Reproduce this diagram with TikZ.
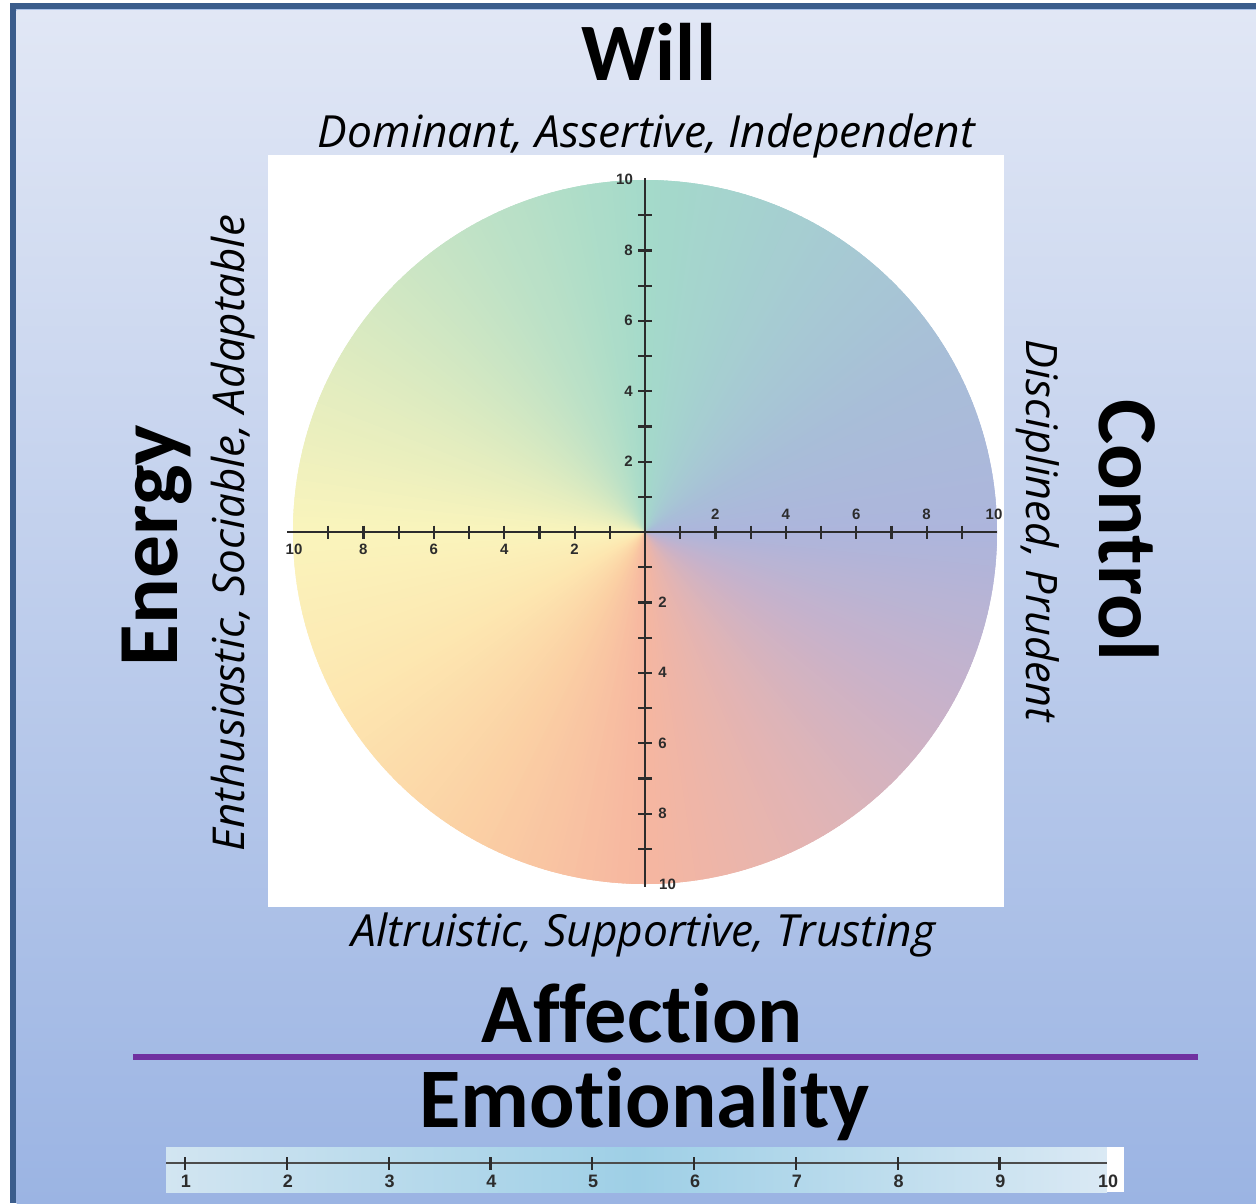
\documentclass[tikz,border=0pt]{standalone}
\usepackage{fontspec}
\setmainfont[Ligatures={NoCommon}]{Carlito}
\newfontfamily\itfont[Ligatures={NoCommon}]{Open Sans}
\newfontfamily\numfont{Liberation Sans}
\usepackage{graphicx}
\definecolor{frameblue}{HTML}{3B5D8C}
\definecolor{framelight}{HTML}{A9C1E9}
\definecolor{bgtop}{HTML}{E1E7F5}
\definecolor{bgbot}{HTML}{9BB4E3}
\definecolor{axiscol}{HTML}{2C2C2C}
\definecolor{purp}{HTML}{7030A0}
\definecolor{sbL}{HTML}{D2E5F1}
\definecolor{sbM}{HTML}{9ECFE6}
\definecolor{sbR}{HTML}{DAE9F4}
\definecolor{k0}{HTML}{ADB5DC}
\definecolor{k1}{HTML}{A8BED8}
\definecolor{k2}{HTML}{A6CCD2}
\definecolor{k3}{HTML}{A4DACA}
\definecolor{k4}{HTML}{C0E2C6}
\definecolor{k5}{HTML}{DEEBC0}
\definecolor{k6}{HTML}{FAF4BC}
\definecolor{k7}{HTML}{FDE6B0}
\definecolor{k8}{HTML}{FBD0A4}
\definecolor{k9}{HTML}{F6B6A0}
\definecolor{k10}{HTML}{E2B4B4}
\definecolor{k11}{HTML}{C8B2CA}
\definecolor{k12}{HTML}{ADB5DC}
\newcommand\fitw[2]{\resizebox{#1}{!}{#2}}
\begin{document}
\begin{tikzpicture}[x=1pt,y={(0,-1pt)},
  axis/.style={draw=axiscol,line width=2pt},
  tickmark/.style={draw=axiscol,line width=2.2pt},
  circlab/.style={font=\numfont\bfseries\fontsize{15}{15}\selectfont,text=axiscol,inner sep=0pt},
  scalelab/.style={font=\numfont\bfseries\fontsize{18}{18}\selectfont,text=axiscol,inner sep=0pt},
  bigtitle/.style={font=\bfseries,inner sep=0pt,anchor=base},
  subtitle/.style={font=\itfont\itshape,inner sep=0pt,anchor=base}]
\useasboundingbox (0,0) rectangle (1256,1203);
\fill[white] (0,0) rectangle (1256,1203);
\fill[frameblue] (10,3) rectangle (1256,1203);
\fill[framelight] (15.5,9) rectangle (1256,1203);
\shade[top color=bgtop,bottom color=bgbot] (16.5,10) rectangle (1256,1203);
% white panel
\fill[white] (268,155) rectangle (1004,907);
% conic colour wheel
\begin{scope}
  \clip (645,532) circle[radius=352pt];
  \begin{scope}[shift={(645,532)}]
    \foreach \k in {0,...,11}{
      \pgfmathtruncatemacro\kn{\k+1}
      \foreach \j in {0,...,29}{
        \pgfmathtruncatemacro\p{100-\j*100/30}
        \pgfmathsetmacro\a{\k*30+\j}
        \colorlet{wc}{k\k!\p!k\kn}
        \fill[wc] (0,0) -- (-\a+0.6:372) -- (-\a-1.6:372) -- cycle;
      }
    }
  \end{scope}
\end{scope}
% axes
\coordinate (hL) at (287,532);
\coordinate (hR) at (997,532);
\coordinate (vT) at (645,178);
\coordinate (vB) at (645,887);
\draw[axis] (hL) -- (hR);
\draw[axis] (vT) -- (vB);
\foreach \i in {1,...,9}{
  \draw[tickmark] (645+\i*35.2,525.5) -- (645+\i*35.2,538.5);
  \draw[tickmark] (645-\i*35.2,525.5) -- (645-\i*35.2,538.5);
  \draw[tickmark] (638,532-\i*35.2) -- (652,532-\i*35.2);
  \draw[tickmark] (638,532+\i*35.2) -- (652,532+\i*35.2);
}
\foreach \i in {2,4,6,8}{
  \node[circlab] (xr\i) at (645+\i*35.2,514.5) {\i};
  \node[circlab] (xl\i) at (645-\i*35.2,549) {\i};
  \node[circlab] (yu\i) at (628.5,532-\i*35.2) {\i};
  \node[circlab] (yd\i) at (662.5,532+\i*35.2) {\i};
}
\node[circlab] (xr10) at (994,514.5) {10};
\node[circlab] (xl10) at (294,549) {10};
\node[circlab] (yu10) at (624.5,179) {10};
\node[circlab] (yd10) at (667.5,884) {10};
% titles
\node[bigtitle] (will) at (649,80) {\fitw{134pt}{Will}};
\node[subtitle] (willsub) at (646.5,147) {\fitw{657pt}{Dominant, Assertive, Independent}};
\node[bigtitle,rotate=90] (energy) at (177,545.5) {\fitw{241pt}{Energy}};
\node[subtitle,rotate=90] (energysub) at (244,533) {\fitw{636pt}{Enthusiastic, Sociable, Adaptable}};
\node[bigtitle,rotate=-90] (control) at (1099,530.5) {\fitw{261pt}{Control}};
\node[subtitle,rotate=-90] (controlsub) at (1026,531) {\fitw{382pt}{Disciplined, Prudent}};
\node[subtitle] (affsub) at (643.5,946) {\fitw{583pt}{Altruistic, Supportive, Trusting}};
\node[bigtitle] (affection) at (642.5,1042) {\fitw{321pt}{Affection}};
% divider
\coordinate (dL) at (133,1057);
\coordinate (dR) at (1198,1057);
\draw[purp,line width=6pt] (dL) -- (dR);
\node[bigtitle] (emo) at (644.5,1127) {\fitw{450pt}{Emotionality}};
% scale bar
\shade[left color=sbL,right color=sbR,middle color=sbM] (166,1147) rectangle (1107,1192);
\fill[white] (1107,1147) rectangle (1124,1192);
\coordinate (sL) at (166,1163);
\coordinate (sR) at (1107,1163);
\draw[draw=axiscol!85,line width=2.2pt] (sL) -- (sR);
\foreach \i in {1,...,9}{
  \draw[tickmark] (185+\i*101.8-101.8,1157) -- (185+\i*101.8-101.8,1169.5);
  \node[scalelab] (s\i) at (186+\i*101.8-101.8,1181.5) {\i};
}
\node[scalelab] (s10) at (1108,1181.5) {10};
\end{tikzpicture}
\end{document}
